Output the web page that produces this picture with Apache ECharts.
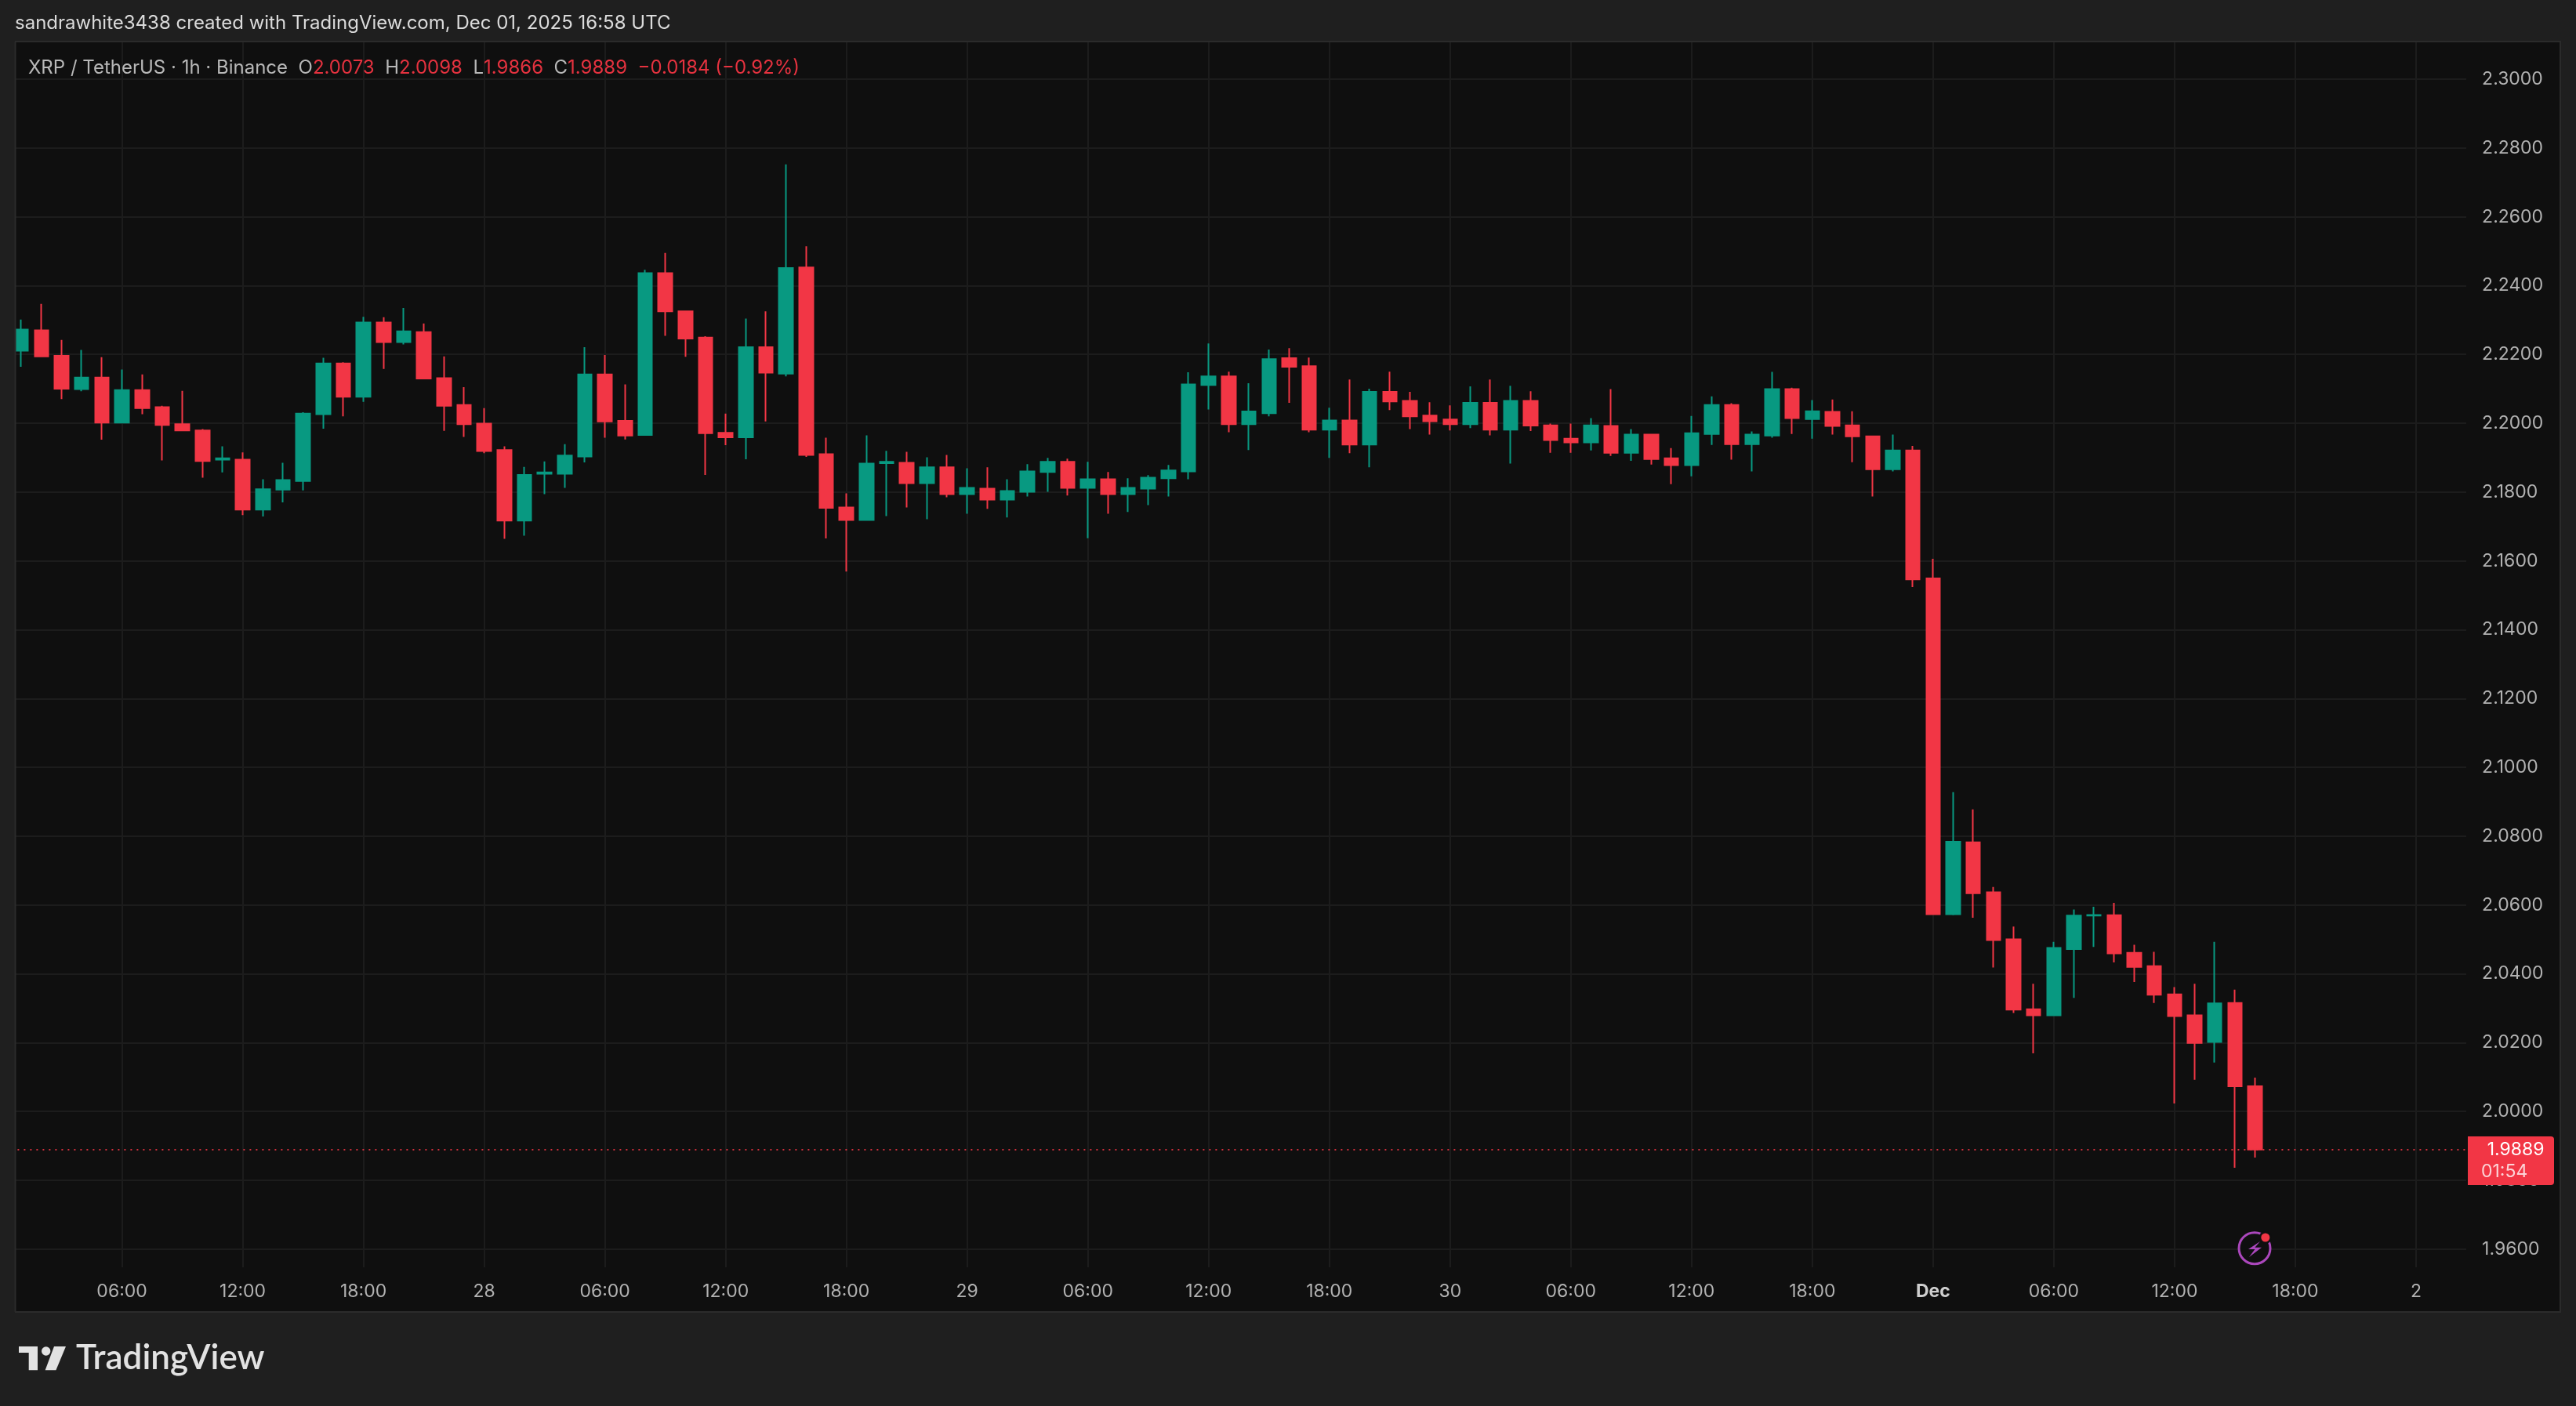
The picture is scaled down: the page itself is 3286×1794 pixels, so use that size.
<!DOCTYPE html>
<html>
<head>
<meta charset="utf-8">
<style>html,body{margin:0;padding:0;background:#1f1f1f}#main{width:3286px;height:1794px}</style>
<script src="https://cdn.jsdelivr.net/npm/echarts@6/dist/echarts.min.js"></script>
</head>
<body>
<div id="main"></div>
<script>
const categories = [
"01:00","02:00","03:00","04:00","05:00","06:00","07:00","08:00","09:00","10:00","11:00","12:00","13:00","14:00","15:00","16:00","17:00","18:00","19:00","20:00","21:00","22:00","23:00","28",
"01:00","02:00","03:00","04:00","05:00","06:00","07:00","08:00","09:00","10:00","11:00","12:00","13:00","14:00","15:00","16:00","17:00","18:00","19:00","20:00","21:00","22:00","23:00","29",
"01:00","02:00","03:00","04:00","05:00","06:00","07:00","08:00","09:00","10:00","11:00","12:00","13:00","14:00","15:00","16:00","17:00","18:00","19:00","20:00","21:00","22:00","23:00","30",
"01:00","02:00","03:00","04:00","05:00","06:00","07:00","08:00","09:00","10:00","11:00","12:00","13:00","14:00","15:00","16:00","17:00","18:00","19:00","20:00","21:00","22:00","23:00","Dec",
"01:00","02:00","03:00","04:00","05:00","06:00","07:00","08:00","09:00","10:00","11:00","12:00","13:00","14:00","15:00","16:00","17:00","18:00","19:00","20:00","21:00","22:00","23:00","2",
"01:00","02:00"];
const priceTicks = [1.96,1.98,2.00,2.02,2.04,2.06,2.08,2.10,2.12,2.14,2.16,2.18,2.20,2.22,2.24,2.26,2.28,2.30];
const opens = [2.2211,2.2270,2.2196,2.2099,2.2133,2.2002,2.2096,2.2047,2.1997,2.1979,2.1894,2.1894,2.1749,2.1807,2.1832,2.2026,2.2174,2.2077,2.2293,2.2236,
2.2265,2.2131,2.2053,2.1999,2.1922,2.1717,2.1853,2.1853,2.1903,2.2142,2.2007,2.1966,2.2436,2.2325,2.2249,2.1972,2.1959,2.2221,2.2144,2.2453,
2.1910,2.1755,2.1719,2.1884,2.1885,2.1826,2.1872,2.1794,2.1810,2.1778,2.1801,2.1858,2.1888,2.1812,2.1837,2.1794,2.1810,2.1840,2.1860,2.2111,
2.2136,2.1997,2.2029,2.2189,2.2166,2.1981,2.2008,2.1938,2.2091,2.2065,2.2022,2.2011,2.1997,2.2059,2.1981,2.2065,2.1994,2.1955,2.1944,2.1992,
2.1914,2.1967,2.1898,2.1878,2.1969,2.2053,2.1939,2.1964,2.2099,2.2012,2.2033,2.1994,2.1962,2.1866,2.1921,2.1549,2.0573,2.0782,2.0637,2.0500,
2.0297,2.0279,2.0472,2.0569,2.0570,2.0461,2.0422,2.0340,2.0279,2.0202,2.0315,2.0073];
const closes = [2.2272,2.2194,2.2100,2.2133,2.2002,2.2096,2.2044,2.1995,2.1979,2.1890,2.1898,2.1749,2.1808,2.1835,2.2028,2.2174,2.2077,2.2293,2.2236,2.2267,
2.2130,2.2051,2.1997,2.1919,2.1717,2.1850,2.1857,2.1906,2.2142,2.2005,2.1964,2.2436,2.2325,2.2246,2.1971,2.1959,2.2221,2.2147,2.2451,2.1908,
2.1754,2.1719,2.1883,2.1888,2.1826,2.1872,2.1794,2.1812,2.1778,2.1803,2.1860,2.1888,2.1812,2.1837,2.1794,2.1812,2.1842,2.1863,2.2113,2.2136,
2.1997,2.2034,2.2186,2.2164,2.1981,2.2008,2.1938,2.2091,2.2063,2.2020,2.2006,2.1997,2.2059,2.1981,2.2065,2.1993,2.1951,2.1944,2.1994,2.1914,
2.1967,2.1896,2.1878,2.1971,2.2053,2.1939,2.1967,2.2099,2.2015,2.2035,2.1992,2.1962,2.1866,2.1921,2.1546,2.0573,2.0784,2.0634,2.0498,2.0296,
2.0279,2.0475,2.0569,2.0571,2.0459,2.0420,2.0339,2.0277,2.0199,2.0314,2.0073,1.9889];
const lows = [2.2164,2.2192,2.2070,2.2093,2.1952,2.2002,2.2026,2.1892,2.1979,2.1842,2.1857,2.1733,2.1729,2.1770,2.1805,2.1984,2.2020,2.2062,2.2158,2.2229,
2.2130,2.1978,2.1960,2.1913,2.1664,2.1673,2.1794,2.1812,2.1886,2.1958,2.1953,2.1966,2.2254,2.2193,2.1850,2.1936,2.1895,2.2005,2.2136,2.1902,
2.1665,2.1569,2.1717,2.1730,2.1755,2.1721,2.1785,2.1737,2.1751,2.1726,2.1787,2.1801,2.1790,2.1666,2.1737,2.1742,2.1762,2.1787,2.1837,2.2040,
2.1974,2.1922,2.2020,2.2059,2.1974,2.1899,2.1913,2.1872,2.2038,2.1983,2.1967,2.1979,2.1986,2.1965,2.1883,2.1977,2.1914,2.1914,2.1921,2.1905,
2.1891,2.1880,2.1823,2.1846,2.1937,2.1894,2.1860,2.1958,2.1969,2.1955,2.1967,2.1887,2.1787,2.1860,2.1524,2.0573,2.0570,2.0563,2.0418,2.0286,
2.0169,2.0279,2.0330,2.0478,2.0433,2.0376,2.0315,2.0023,2.0092,2.0142,1.9836,1.9866];
const highs = [2.2301,2.2347,2.2242,2.2213,2.2192,2.2156,2.2142,2.2051,2.2094,2.1983,2.1933,2.1915,2.1837,2.1885,2.2032,2.2190,2.2177,2.2309,2.2308,2.2335,
2.2290,2.2194,2.2105,2.2044,2.1933,2.1873,2.1889,2.1939,2.2221,2.2198,2.2113,2.2446,2.2495,2.2325,2.2253,2.2028,2.2304,2.2325,2.2752,2.2514,
2.1958,2.1796,2.1965,2.1920,2.1917,2.1901,2.1908,2.1869,2.1872,2.1837,2.1881,2.1899,2.1897,2.1888,2.1858,2.1840,2.1849,2.1879,2.2148,2.2232,
2.2150,2.2116,2.2214,2.2218,2.2191,2.2045,2.2127,2.2100,2.2150,2.2091,2.2061,2.2052,2.2107,2.2127,2.2109,2.2093,2.1999,2.1999,2.2015,2.2099,
2.1983,2.1969,2.1928,2.2021,2.2078,2.2058,2.1976,2.2149,2.2103,2.2067,2.2069,2.2035,2.1964,2.1967,2.1934,2.1606,2.0928,2.0878,2.0652,2.0537,
2.0371,2.0493,2.0587,2.0595,2.0606,2.0484,2.0464,2.0361,2.0371,2.0493,2.0354,2.0098];
const lastPrice = 1.9889;

const RED = '#f23645', GREEN = '#089981', PANEL = '#0f0f0f', PAGE = '#1f1f1f', EDGE = '#2b2b2b', GRID = '#1c1c1c';
const FONT = 'Inter';
const candles = opens.map((o, i) => [o, closes[i], lows[i], highs[i]]);
const major = i => (i + 1) % 6 === 0;

const chart = echarts.init(document.getElementById('main'), null, {renderer: 'canvas'});
chart.setOption({
  animation: false,
  backgroundColor: PAGE,
  title: [
    {left: 19, top: 18, padding: 0, text: 'sandrawhite3438 created with TradingView.com, Dec 01, 2025 16:58 UTC',
     textStyle: {fontFamily: FONT, fontSize: 24, fontWeight: 400, color: '#dbdbdb'}},
    {left: 36, top: 75, padding: 0, text: '{g|XRP / TetherUS · 1h · Binance}{g|  O}{r|2.0073}{g|  H}{r|2.0098}{g|  L}{r|1.9866}{g|  C}{r|1.9889}{r|  −0.0184 (−0.92%)}',
     textStyle: {fontWeight: 400, rich: {
       g: {fontFamily: FONT, fontSize: 24, fontWeight: 400, color: '#b8b8b8'},
       r: {fontFamily: FONT, fontSize: 24, fontWeight: 400, color: '#e5323f'}}}},
    {left: 97, top: 1711, padding: 0, text: 'TradingView',
     textStyle: {fontFamily: 'Lato', fontSize: 44, fontWeight: 600, color: '#e2e2e2'}}
  ],
  grid: {left: 14.4, right: 3286 - 3146.1, top: 54, bottom: 177, containLabel: false},
  xAxis: {
    type: 'category',
    data: categories,
    boundaryGap: true,
    axisLine: {show: false},
    axisTick: {show: false, alignWithLabel: true, interval: i => major(i)},
    splitLine: {show: true, alignWithLabel: true, interval: i => major(i), lineStyle: {color: GRID, width: 2}},
    axisLabel: {
      interval: i => major(i), margin: 20, fontFamily: FONT, fontSize: 23, color: '#b2b2b2',
      formatter: v => v === 'Dec' ? '{b|Dec}' : v,
      rich: {b: {fontFamily: FONT, fontSize: 23, fontWeight: 700, color: '#cfcfcf'}}
    }
  },
  yAxis: {
    type: 'value',
    position: 'right',
    min: 1.9547,
    max: 2.3107,
    scale: true,
    axisLine: {show: false},
    axisTick: {show: false, customValues: priceTicks},
    splitLine: {show: true, lineStyle: {color: GRID, width: 2}},
    axisLabel: {customValues: priceTicks, margin: 20, fontFamily: FONT, fontSize: 23, color: '#b2b2b2',
      formatter: v => v.toFixed(4)}
  },
  series: [{
    type: 'candlestick',
    data: candles,
    barWidth: 18,
    clip: true,
    itemStyle: {color: GREEN, color0: RED, borderColor: GREEN, borderColor0: RED, borderWidth: 2},
    markLine: {
      silent: true, symbol: 'none', animation: false, precision: 4,
      label: {show: false},
      lineStyle: {color: RED, type: [2, 6], width: 2, opacity: 0.85},
      data: [{yAxis: lastPrice}]
    }
  }],
  graphic: {elements: [
    {type: 'rect', z: -20, silent: true, shape: {x: 19, y: 53, width: 3247, height: 1621},
     style: {fill: PANEL, stroke: EDGE, lineWidth: 2}},
    {type: 'rect', z: 50, silent: true, shape: {x: 0, y: 0, width: 19, height: 1794}, style: {fill: PAGE}},
    {type: 'rect', z: 50, silent: true, shape: {x: 18.5, y: 53, width: 2, height: 1621}, style: {fill: EDGE}},
    {type: 'rect', z: 60, silent: true, shape: {x: 3148, y: 1450, width: 110, height: 62, r: [0, 4, 4, 0]}, style: {fill: RED}},
    {type: 'text', z: 61, silent: true, x: 3245.5, y: 1467, style: {text: lastPrice.toFixed(4), fill: '#ffffff', font: '23px Inter', textAlign: 'right', textVerticalAlign: 'middle'}},
    {type: 'text', z: 61, silent: true, x: 3165, y: 1495, style: {text: '01:54', fill: 'rgba(255,255,255,0.78)', font: '23px Inter', textAlign: 'left', textVerticalAlign: 'middle'}},
    {type: 'circle', z: 40, silent: true, shape: {cx: 2876, cy: 1592.7, r: 20}, style: {fill: PANEL, stroke: '#ab47bc', lineWidth: 3}},
    {type: 'polygon', z: 41, silent: true, shape: {points: [[2883,1584],[2868,1594],[2876.4,1594],[2869,1604],[2885,1591.7],[2876.4,1591.7]]}, style: {fill: '#ab47bc'}},
    {type: 'circle', z: 42, silent: true, shape: {cx: 2889.8, cy: 1579, r: 8}, style: {fill: PANEL}},
    {type: 'circle', z: 43, silent: true, shape: {cx: 2889.8, cy: 1579, r: 5.5}, style: {fill: RED}},
    {type: 'polygon', z: 10, silent: true, shape: {points: [[24,1718],[48,1718],[48,1748.3],[36.7,1748.3],[36.7,1726],[24,1726]]}, style: {fill: '#e2e2e2'}},
    {type: 'circle', z: 10, silent: true, shape: {cx: 58.7, cy: 1724, r: 5.7}, style: {fill: '#e2e2e2'}},
    {type: 'polygon', z: 10, silent: true, shape: {points: [[84,1718],[71.4,1748.3],[57.7,1748.3],[69,1718]]}, style: {fill: '#e2e2e2'}}
  ]}
});
</script>
</body>
</html>
